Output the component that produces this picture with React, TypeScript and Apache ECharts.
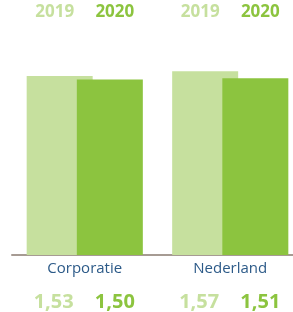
import React, { useEffect, useRef } from "react";
import * as echarts from "echarts";

const categories = ["Corporatie", "Nederland"];
const years = ["2019", "2020"];
const values2019 = [1.53, 1.57];
const values2020 = [1.5, 1.51];

const LIGHT = "#c6e09e";
const DARK = "#8cc43f";
const Y_MAX = 2;

const fmt = (v: number) => v.toFixed(2).replace(".", ",");

export default function App() {
  const ref = useRef<HTMLDivElement>(null);
  useEffect(() => {
    document.body.style.margin = "0";
    const chart = echarts.init(ref.current!, undefined, { renderer: "svg" });
    const font = "'Open Sans', 'Noto Sans', sans-serif";
    const valueLabel = (dx: number, color: string) => ({
      show: true,
      position: "bottom",
      distance: 36,
      offset: [dx, 0],
      color,
      fontFamily: font,
      fontWeight: "bold",
      fontSize: 20,
      lineHeight: 18,
      formatter: (p: any) => fmt(p.value),
    });
    const yearLabel = (dx: number, color: string, text: string) => ({
      show: true,
      position: "insideTop",
      distance: 0,
      offset: [dx, -19],
      color,
      fontFamily: font,
      fontWeight: "bold",
      fontSize: 17,
      lineHeight: 17,
      formatter: () => text,
    });
    chart.setOption({
      animation: false,
      grid: {
        left: 12,
        width: 291,
        top: 21,
        bottom: 57,
        outerBoundsMode: "none",
        containLabel: false,
      },
      xAxis: [
        {
          type: "category",
          data: categories,
          axisLine: { lineStyle: { color: "#a69b93", width: 2 } },
          axisTick: { show: false },
          axisLabel: {
            color: "#2c5a88",
            fontFamily: font,
            fontSize: 15,
            margin: 4,
          },
        },
        { type: "category", data: categories, show: false },
      ],
      yAxis: {
        type: "value",
        min: 0,
        max: Y_MAX,
        show: false,
        splitLine: { show: false },
      },
      series: [
        {
          type: "bar",
          name: years[0],
          data: values2019,
          barWidth: 66,
          barGap: "-24%",
          itemStyle: { color: LIGHT },
          label: valueLabel(-6, LIGHT),
          z: 2,
        },
        {
          type: "bar",
          name: years[1],
          data: values2020,
          barWidth: 66,
          barGap: "-24%",
          itemStyle: { color: DARK },
          label: valueLabel(5, DARK),
          z: 3,
        },
        {
          type: "bar",
          xAxisIndex: 1,
          data: categories.map(() => Y_MAX),
          barWidth: 66,
          barGap: "-24%",
          silent: true,
          itemStyle: { color: "rgba(0,0,0,0)" },
          label: yearLabel(-5, LIGHT, years[0]),
          z: 1,
        },
        {
          type: "bar",
          xAxisIndex: 1,
          data: categories.map(() => Y_MAX),
          barWidth: 66,
          barGap: "-24%",
          silent: true,
          itemStyle: { color: "rgba(0,0,0,0)" },
          label: yearLabel(5, DARK, years[1]),
          z: 1,
        },
      ],
    });
    return () => chart.dispose();
  }, []);
  return (
    <div
      ref={ref}
      style={{ position: "fixed", left: 0, top: 0, width: 293, height: 312 }}
    />
  );
}
